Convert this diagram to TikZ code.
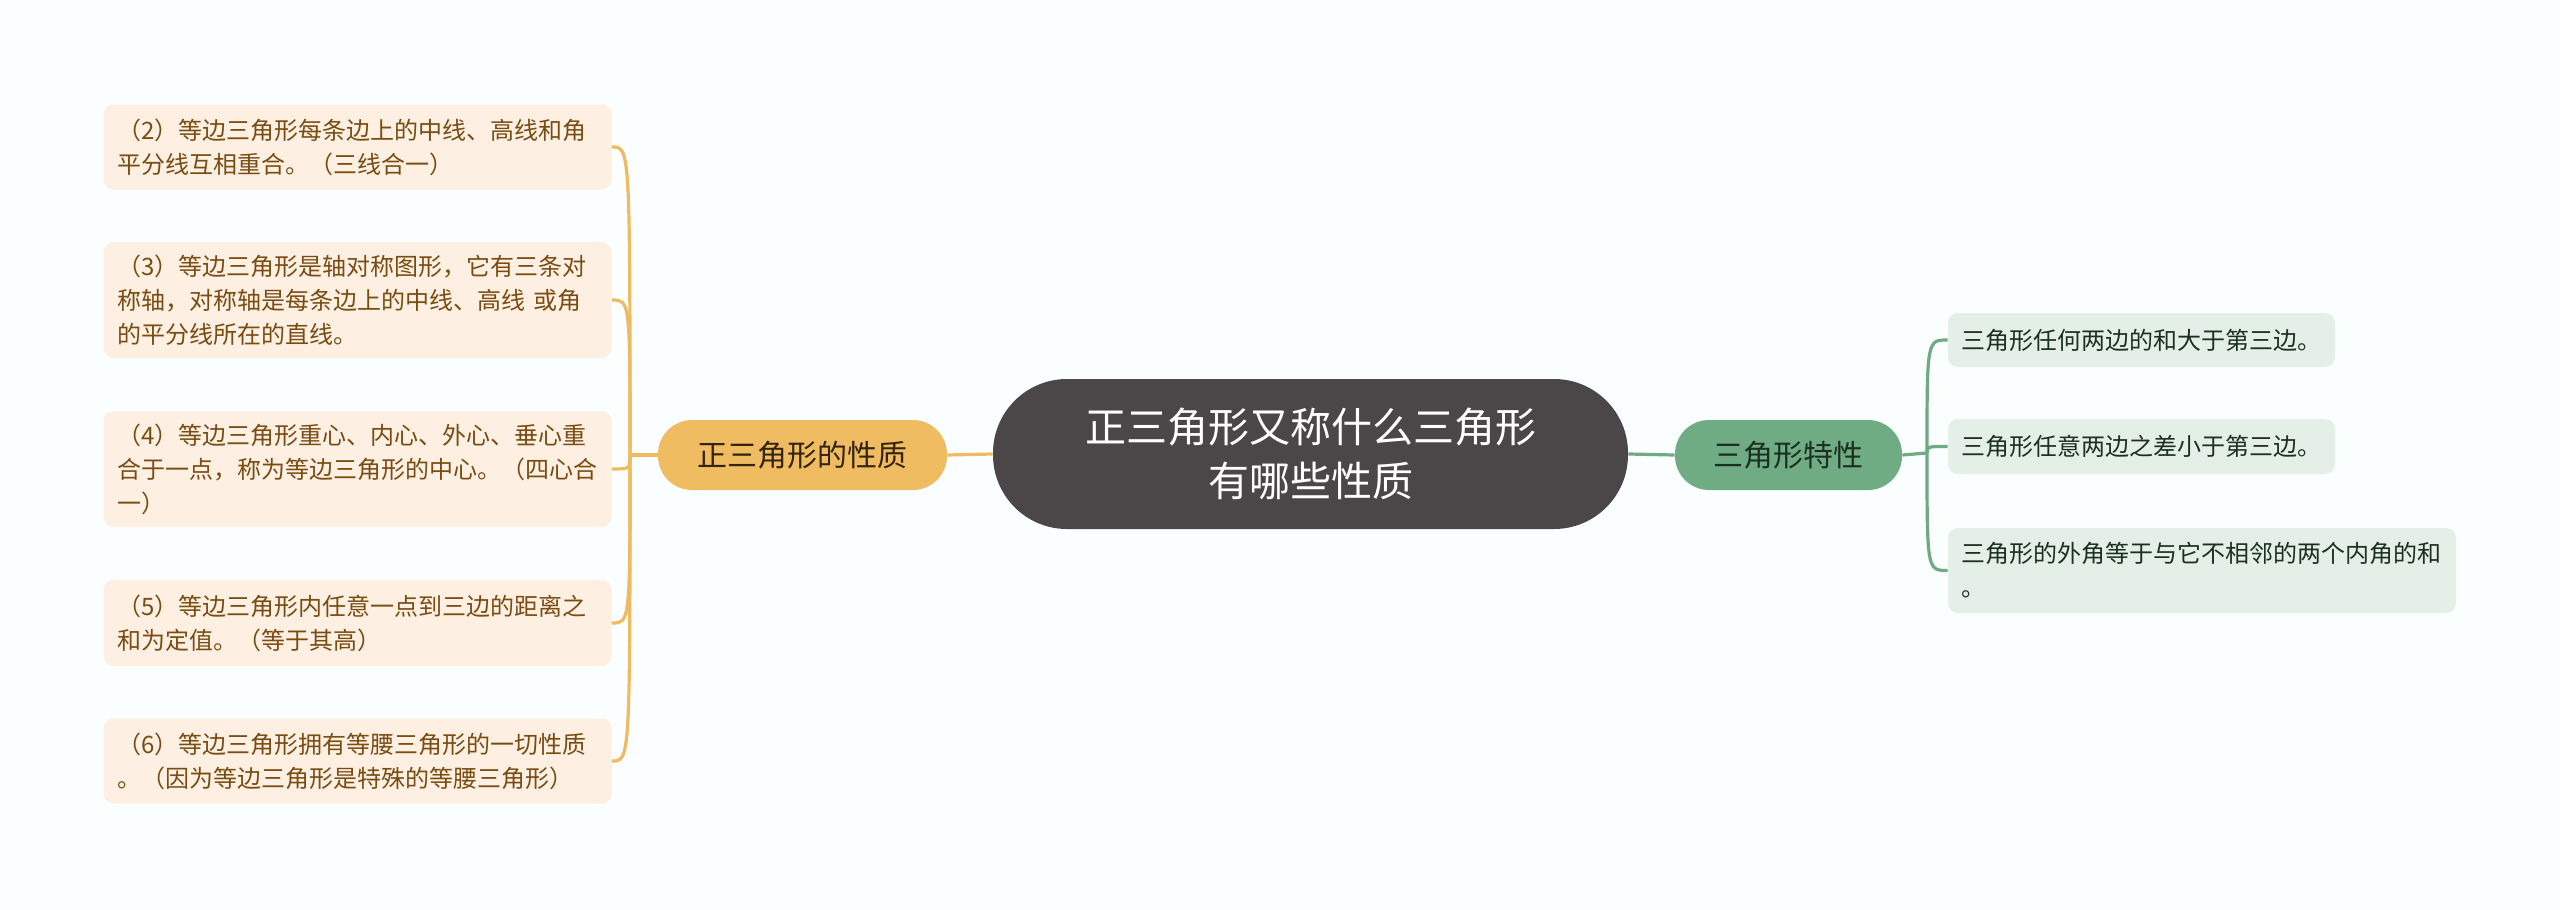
\documentclass[tikz,border=0pt]{standalone}
\usepackage{fontspec}
\setmainfont{Noto Sans CJK SC}
\usepackage{tikz}

\definecolor{bgcol}{RGB}{251,254,254}
\definecolor{rootcol}{RGB}{75,70,71}
\definecolor{orgcol}{RGB}{240,188,98}
\definecolor{olinecol}{RGB}{239,186,96}
\definecolor{obox}{RGB}{253,240,227}
\definecolor{otext}{RGB}{122,76,18}
\definecolor{grncol}{RGB}{111,172,131}
\definecolor{glinecol}{RGB}{111,170,130}
\definecolor{gbox}{RGB}{228,239,231}
\definecolor{gtext}{RGB}{28,48,34}

\begin{document}
\begin{tikzpicture}[x=0.5pt, y=-0.5pt,
  rootnode/.style={fill=rootcol, text=white, rounded corners=37pt, align=center,
    minimum width=317.5pt, minimum height=75pt, font=\fontsize{20.5}{27}\selectfont},
  pillnode/.style={rounded corners=17pt, minimum height=35pt, inner sep=0pt,
    font=\fontsize{15}{18}\selectfont},
  leafbox/.style={fill=obox, text=otext, rounded corners=5pt, align=left,
    text width=240pt, inner xsep=7pt, inner ysep=0pt, font=\fontsize{12}{17}\selectfont},
  gleafbox/.style={fill=gbox, text=gtext, rounded corners=5pt, align=left,
    inner xsep=6.5pt, inner ysep=0pt, font=\fontsize{12}{17}\selectfont},
  oline/.style={draw=olinecol, line width=1.6pt},
  gline/.style={draw=glinecol, line width=1.6pt}]

% background, 2560 x 910
\fill[bgcol] (0,0) rectangle (2560,910);
\useasboundingbox (0,0) rectangle (2560,910);

% Center
\node[rootnode] (root) at (1310.5,454) {正三角形又称什么三角形\\有哪些性质};

% Left branch
\node[pillnode, fill=orgcol, text={rgb,255:red,52;green,36;blue,14}, minimum width=144.5pt] (lp) at (802.5,455) {正三角形的性质};
\coordinate (lt) at (630,455);

\node[leafbox, minimum height=42.5pt] (l1) at (357.5,147) {（2）等边三角形每条边上的中线、高线和角\\平分线互相重合。（三线合一）};
\node[leafbox, minimum height=58pt] (l2) at (357.5,300) {（3）等边三角形是轴对称图形，它有三条对\\称轴，对称轴是每条边上的中线、高线 或角\\的平分线所在的直线。};
\node[leafbox, minimum height=58pt] (l3) at (357.5,469) {（4）等边三角形重心、内心、外心、垂心重\\合于一点，称为等边三角形的中心。（四心合\\一）};
\node[leafbox, minimum height=43pt] (l4) at (357.5,623) {（5）等边三角形内任意一点到三边的距离之\\和为定值。（等于其高）};
\node[leafbox, minimum height=42.5pt] (l5) at (357.5,761) {（6）等边三角形拥有等腰三角形的一切性质\\。（因为等边三角形是特殊的等腰三角形）};

\draw[oline] (root.west) -- (lp.east);
\draw[oline] (lp.west) -- (lt);
\foreach \b in {l1,l2,l3,l4,l5}
  \draw[oline] (lt) .. controls (lt |- \b.east) .. (\b.east);

% Right branch
\node[pillnode, fill=grncol, text=gtext, minimum width=113.5pt] (gp) at (1788.5,455) {三角形特性};
\coordinate (rt) at (1927,453);

\node[gleafbox, text width=180.5pt, minimum height=27pt] (r1) at (2141.5,340) {三角形任何两边的和大于第三边。};
\node[gleafbox, text width=180.5pt, minimum height=27.5pt] (r2) at (2141.5,446.5) {三角形任意两边之差小于第三边。};
\node[gleafbox, text width=241pt, minimum height=42.5pt] (r3) at (2202,570.5) {三角形的外角等于与它不相邻的两个内角的和\\。};

\draw[gline] (root.east) -- (gp.west);
\draw[gline] (gp.east) -- (rt);
\foreach \b in {r1,r2,r3}
  \draw[gline] (rt) .. controls (rt |- \b.west) .. (\b.west);

\end{tikzpicture}
\end{document}
